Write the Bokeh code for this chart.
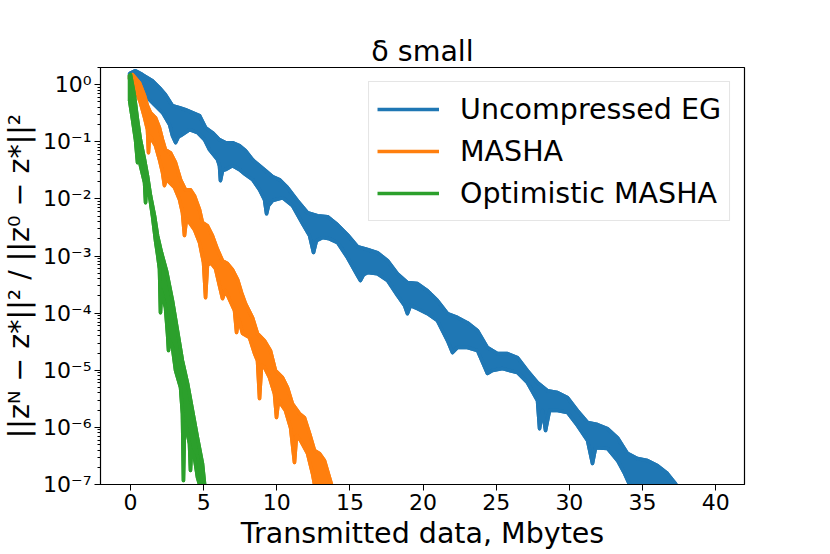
from bokeh.plotting import figure
from bokeh.models import FixedTicker, CustomJSTickFormatter, Legend, LegendItem, Range1d
from bokeh.embed import file_html
from bokeh.resources import INLINE

title_text = "δ small"
x_label = "Transmitted data, Mbytes"
y_label = "||zᴺ − z*||² / ||z⁰ − z*||²"
x_ticks = [0, 5, 10, 15, 20, 25, 30, 35, 40]
y_ticks = [1e-7, 1e-6, 1e-5, 1e-4, 1e-3, 1e-2, 1e-1, 1e0]
series_names = ["Uncompressed EG", "MASHA", "Optimistic MASHA"]
series_colors = ["#1f77b4", "#ff7f0e", "#2ca02c"]

# Uncompressed EG: upper and lower edge of the noisy band
eg_upper_x = [-0.07, 0.34, 0.82, 1.50, 1.98, 2.39, 2.87, 3.35, 3.76, 4.24, 4.72, 5.13, 5.60, 6.08, 6.49, 6.97,
              7.45, 7.86, 8.34, 8.82, 9.23, 9.71, 10.18, 10.73, 11.41, 12.10, 12.78, 13.47, 14.15, 14.83, 15.52,
              16.20, 16.88, 17.57, 18.25, 18.93, 19.62, 20.30, 20.98, 21.67, 22.35, 23.03, 23.72, 24.40, 25.08,
              25.77, 26.45, 27.13, 27.82, 28.50, 29.19, 29.87, 30.55, 31.24, 31.92, 32.60, 33.29, 33.97, 34.65,
              35.34, 36.02, 36.70, 37.25, 38.07]
eg_upper_y = [1.56, 1.76, 1.50, 1.17, 0.886, 0.668, 0.429, 0.396, 0.365, 0.324, 0.287, 0.177, 0.145, 0.109,
              0.0966, 0.0966, 0.0856, 0.070, 0.0487, 0.0382, 0.0313, 0.0245, 0.0218, 0.0158, 9.33e-3, 5.75e-3,
              5.1e-3, 4.9e-3, 3.55e-3, 2.37e-3, 1.46e-3, 1.3e-3, 1.15e-3, 8.3e-4, 4.9e-4, 3.43e-4, 3.29e-4,
              2.48e-4, 1.66e-4, 9.8e-5, 8.4e-5, 6.8e-5, 4.95e-5, 2.5e-5, 1.96e-5, 1.96e-5, 1.67e-5, 9.9e-6,
              6.1e-6, 4.4e-6, 4.07e-6, 3.33e-6, 1.97e-6, 1.22e-6, 1.12e-6, 9.5e-7, 6.6e-7, 3.5e-7, 2.85e-7,
              2.63e-7, 2.15e-7, 1.56e-7, 1.04e-7, 4.3e-8]
eg_lower_x = [-0.07, 0.34, 0.82, 1.30, 1.64, 2.19, 2.67, 2.87, 3.08, 3.28, 3.42, 4.03, 4.58, 5.06, 5.40, 5.95,
              6.08, 6.15, 6.29, 6.49, 6.97, 7.45, 7.86, 8.34, 8.82, 9.16, 9.30, 9.43, 9.71, 10.39, 11.07, 11.76,
              12.24, 12.51, 12.71, 13.12, 13.60, 14.15, 14.83, 15.52, 15.72, 15.93, 16.20, 16.88, 17.57, 18.25,
              18.73, 18.93, 19.14, 19.62, 20.30, 20.98, 21.67, 22.01, 22.35, 23.03, 23.72, 24.40, 24.74, 25.43,
              26.45, 27.13, 27.82, 27.96, 28.16, 28.37, 28.64, 29.19, 29.87, 30.55, 31.24, 31.58, 31.79, 32.60,
              33.29, 33.77, 34.11, 34.65, 38.07]
eg_lower_y = [1.27, 1.08, 0.724, 0.546, 0.447, 0.324, 0.20, 0.128, 0.0966, 0.123, 0.128, 0.163, 0.145, 0.109,
              0.0729, 0.0487, 0.0382, 0.0209, 0.0313, 0.0326, 0.0382, 0.0326, 0.0266, 0.0218, 0.0145, 9.7e-3,
              5.5e-3, 7.6e-3, 9.33e-3, 0.0105, 7.6e-3, 3.7e-3, 2.28e-3, 1.15e-3, 1.86e-3, 2.1e-3, 2.0e-3, 1.72e-3,
              9.4e-4, 4.55e-4, 3.72e-4, 4.73e-4, 5.13e-4, 4.9e-4, 3.72e-4, 2.03e-4, 1.36e-4, 9.8e-5, 1.36e-4,
              1.2e-4, 9.8e-5, 7.4e-5, 3.3e-5, 2.04e-5, 2.5e-5, 2.5e-5, 2.21e-5, 8.8e-6, 9.9e-6, 1.07e-5, 9.1e-6,
              6.1e-6, 2.95e-6, 9.5e-7, 1.97e-6, 8.8e-7, 1.97e-6, 1.97e-6, 1.82e-6, 1.08e-6, 5.9e-7, 2.33e-7,
              4.4e-7, 4.27e-7, 2.63e-7, 1.56e-7, 1.0e-7, 3.5e-8, 3.0e-8]

# MASHA
masha_upper_x = [-0.07, 0.14, 0.62, 0.96, 1.16, 1.37, 1.71, 1.98, 2.19, 2.39, 2.73, 3.08, 3.42, 3.76, 4.10, 4.37,
                 4.72, 4.92, 5.26, 5.60, 5.95, 6.29, 6.63, 6.97, 7.32, 7.59, 7.86, 8.34, 8.68, 9.16, 9.57, 9.91,
                 10.39, 10.73, 11.07, 11.55, 11.89, 12.24, 12.58, 12.92, 13.26, 13.60, 13.74, 14.01]
masha_upper_y = [1.44, 1.50, 1.08, 0.642, 0.429, 0.324, 0.265, 0.177, 0.109, 0.0729, 0.0646, 0.0432, 0.0218,
                 0.0145, 0.0145, 0.0114, 6.5e-3, 3.85e-3, 3.4e-3, 2.28e-3, 1.3e-3, 8.3e-4, 7.37e-4, 5.79e-4,
                 3.87e-4, 2.29e-4, 1.47e-4, 8.4e-5, 4.39e-5, 3.3e-5, 2.21e-5, 9.9e-6, 7.5e-6, 4.98e-6, 2.6e-6,
                 1.75e-6, 1.49e-6, 7.8e-7, 3.94e-7, 3.5e-7, 2.63e-7, 1.33e-7, 1.0e-7, 4.3e-8]
masha_lower_x = [-0.07, 0.34, 0.68, 0.96, 1.16, 1.23, 1.30, 1.50, 1.71, 1.98, 2.19, 2.32, 2.46, 2.67, 3.01, 3.35,
                 3.55, 3.69, 3.83, 4.03, 4.37, 4.72, 4.99, 5.13, 5.26, 5.47, 5.81, 6.08, 6.29, 6.49, 7.11, 7.25,
                 7.38, 7.66, 8.13, 8.48, 8.68, 8.82, 8.96, 9.16, 9.50, 9.84, 9.98, 10.12, 10.59, 10.94, 11.21,
                 11.35, 11.62, 12.10, 12.44, 12.58, 12.78]
masha_lower_y = [1.27, 0.818, 0.484, 0.265, 0.163, 0.0646, 0.128, 0.105, 0.0856, 0.0487, 0.0288, 0.0171, 0.0226,
                 0.0193, 0.0158, 9.7e-3, 5.75e-3, 2.28e-3, 4.52e-3, 3.85e-3, 2.9e-3, 1.72e-3, 7.7e-4, 1.87e-4,
                 6.8e-4, 7.7e-4, 6.0e-4, 3.04e-4, 1.8e-4, 2.48e-4, 1.11e-4, 4.57e-5, 8.0e-5, 4.39e-5, 3.74e-5,
                 1.96e-5, 1.48e-5, 3.2e-6, 1.21e-5, 1.12e-5, 7.5e-6, 3.9e-6, 1.49e-6, 2.95e-6, 1.97e-6, 9.9e-7,
                 2.43e-7, 7.2e-7, 5.9e-7, 3.5e-7, 1.56e-7, 1.0e-7, 4.3e-8]

# Optimistic MASHA
opt_upper_x = [-0.07, 0.0, 0.27, 0.48, 0.68, 0.96, 1.16, 1.37, 1.64, 1.85, 2.12, 2.46, 2.87, 3.21, 3.55, 3.90,
               4.24, 4.58, 4.92, 5.06, 5.20]
opt_upper_y = [1.44, 1.50, 0.642, 0.244, 0.109, 0.0487, 0.0256, 0.0114, 5.1e-3, 2.28e-3, 1.15e-3, 5.56e-4,
               1.66e-4, 4.95e-5, 1.48e-5, 5.9e-6, 1.97e-6, 6.6e-7, 2.33e-7, 1.04e-7, 4.3e-8]
opt_lower_x = [-0.07, 0.14, 0.34, 0.48, 0.55, 0.68, 0.96, 1.03, 1.09, 1.30, 1.50, 1.71, 1.85, 1.98, 2.05, 2.12,
               2.39, 2.53, 2.60, 2.67, 2.87, 3.08, 3.42, 3.55, 3.62, 3.69, 3.76, 4.03, 4.10, 4.17, 4.37, 4.58,
               4.72, 4.78]
opt_lower_y = [0.546, 0.244, 0.109, 0.0432, 0.0856, 0.0382, 0.0193, 8.6e-3, 0.0151, 0.0114, 5.1e-3, 1.86e-3,
               1.06e-3, 6.0e-4, 1.02e-4, 2.48e-4, 1.25e-4, 4.39e-5, 2.21e-5, 3.3e-5, 2.5e-5, 9.9e-6, 4.98e-6,
               1.75e-6, 1.17e-7, 8.8e-7, 1.17e-6, 5.2e-7, 1.76e-7, 3.94e-7, 2.97e-7, 1.33e-7, 1.0e-7, 4.3e-8]

FONT = "DejaVu Sans"

p = figure(frame_width=644, frame_height=417, y_axis_type="log",
           x_range=Range1d(-2.05, 41.97), y_range=Range1d(1e-7, 2.0),
           output_backend="svg", toolbar_location=None,
           min_border_left=95, min_border_right=75, min_border_top=67, min_border_bottom=40)

p.title.text = title_text
p.title.align = "center"
p.title.text_font = FONT
p.title.text_font_size = "28.5px"
p.title.text_font_style = "normal"
p.title.text_color = "black"
p.title.standoff = 0

p.grid.visible = False
p.outline_line_color = "black"
p.outline_line_width = 1.2
p.background_fill_color = "white"
p.border_fill_color = "white"

for ax in (p.xaxis[0], p.yaxis[0]):
    ax.axis_line_color = "black"
    ax.major_tick_line_color = "black"
    ax.minor_tick_line_color = "black"
    ax.major_tick_out = 6
    ax.major_tick_in = 0
    ax.minor_tick_out = 3
    ax.minor_tick_in = 0
    ax.major_label_text_font = FONT
    ax.major_label_text_font_size = "22px"
    ax.major_label_text_color = "black"
    ax.axis_label_text_font = FONT
    ax.axis_label_text_font_size = "28.5px"
    ax.axis_label_text_font_style = "normal"
    ax.axis_label_text_color = "black"
    ax.major_label_standoff = 3
    ax.axis_label_standoff = 4

p.xaxis.axis_label = x_label
p.yaxis.axis_label = y_label
p.xaxis.ticker = FixedTicker(ticks=x_ticks, minor_ticks=[])
p.yaxis.ticker = FixedTicker(ticks=y_ticks,
                             minor_ticks=[m * t for t in y_ticks[:-1] for m in range(2, 10)] + [2.0 * y_ticks[-1]])
p.yaxis.formatter = CustomJSTickFormatter(code="""
const sup = {"-": "\u207b", "0": "\u2070", "1": "\u00b9", "2": "\u00b2", "3": "\u00b3", "4": "\u2074",
             "5": "\u2075", "6": "\u2076", "7": "\u2077", "8": "\u2078", "9": "\u2079"};
const e = Math.round(Math.log10(tick));
return "10" + String(e).split("").map(c => sup[c]).join("");
""")

series = [
    (eg_upper_x, eg_upper_y, eg_lower_x, eg_lower_y),
    (masha_upper_x, masha_upper_y, masha_lower_x, masha_lower_y),
    (opt_upper_x, opt_upper_y, opt_lower_x, opt_lower_y),
]

items = []
for (ux, uy, lx, ly), name, color in zip(series, series_names, series_colors):
    px = list(ux) + list(reversed(lx))
    py = list(uy) + list(reversed(ly))
    p.patch(px, py, fill_color=color, line_color=color, line_width=3.5, line_join="round")
    r = p.line(ux, uy, line_color=color, line_width=3.5, line_join="round")
    p.line(lx, ly, line_color=color, line_width=3.5, line_join="round")
    items.append(LegendItem(label=name, renderers=[r]))

legend = Legend(items=items, location="top_right")
legend.label_text_font = FONT
legend.label_text_font_size = "28.5px"
legend.label_text_color = "black"
legend.glyph_width = 62
legend.glyph_height = 38
legend.label_height = 38
legend.label_standoff = 21
legend.padding = 8
legend.spacing = 4
legend.margin = 14
legend.border_line_color = "#cccccc"
legend.border_line_width = 1
legend.background_fill_color = "white"
legend.background_fill_alpha = 0.8
p.add_layout(legend)

open("out.html", "w").write(file_html(p, INLINE))
